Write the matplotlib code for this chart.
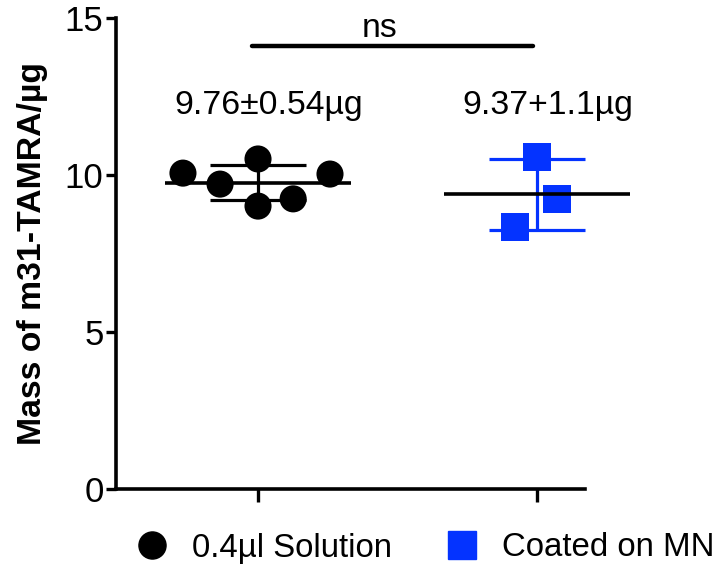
import numpy as np
import matplotlib
matplotlib.use("Agg")
import matplotlib.pyplot as plt
from matplotlib.lines import Line2D

plt.rcParams['font.family'] = ['Liberation Sans', 'DejaVu Sans']

categories = ["0.4µl Solution", "Coated on MN"]
solution_vals = [10.06, 9.71, 10.51, 9.01, 9.24, 10.03]
coated_vals = [8.34, 10.57, 9.24]
solution_jitter = [-0.269, -0.136, 0.0, 0.0, 0.126, 0.258]
coated_jitter = [-0.079, 0.0, 0.072]
labels = ["9.76±0.54µg", "9.37+1.1µg"]
sig_text = "ns"
yticks = [0, 5, 10, 15]

BLUE = "#0433FF"
FS = 24.3
fig = plt.figure(figsize=(7.2, 5.68), dpi=100)
ax = fig.add_axes([116/720, 1-489/568, (585-116)/720, (489-18)/568])
ax.set_xlim(-0.509, 1.172)
ax.set_ylim(0, 15)

groups = [(solution_vals, solution_jitter, 'o', 'black', 'black'),
          (coated_vals, coated_jitter, 's', BLUE, BLUE)]
for i, (vals, jit, mk, col, ecol) in enumerate(groups):
    vals = np.array(vals)
    m = vals.mean()
    sd = vals.std(ddof=1)
    ax.errorbar([i], [m], yerr=[sd], fmt='none', ecolor=ecol, elinewidth=2.3,
                capsize=34.5, capthick=2.3, zorder=2, clip_on=False)
    ax.scatter(i + np.array(jit), vals, marker=mk, s=(19.5 if mk == 'o' else 20.5)**2,
               color=col, edgecolors='none', zorder=3, clip_on=False)
    ax.hlines(m, i - 0.335, i + 0.335, colors='black', linewidth=2.6, zorder=4, clip_on=False)
    ax.text(i + 0.04, 12.2, labels[i], ha='center', va='center', fontsize=FS)

# significance bar
ax.plot([-0.02, 0.985], [14.1, 14.1], color='black', linewidth=3.2,
        solid_capstyle='round', clip_on=False, zorder=5)
ax.text(0.435, 14.4, sig_text, ha='center', va='baseline', fontsize=FS)

for s in ['top', 'right']:
    ax.spines[s].set_visible(False)
for s in ['left', 'bottom']:
    ax.spines[s].set_linewidth(2.6)

ax.set_yticks(yticks)
ax.set_xticks([0, 1])
ax.set_xticklabels(["", ""])
ax.tick_params(axis='y', length=7, width=2.4, labelsize=25, pad=2)
ax.tick_params(axis='x', length=9.5, width=2.4)
ax.set_ylabel("Mass of m31-TAMRA/µg", fontsize=FS, fontweight='bold', labelpad=12)

handles = [Line2D([], [], marker='o', linestyle='none', color='black', markersize=19.5),
           Line2D([], [], marker='s', linestyle='none', color=BLUE, markersize=19.5)]
fig.legend(handles, categories, loc='center left', bbox_to_anchor=(135/720, 1-548/568), ncol=2,
           frameon=False, fontsize=23.8, handletextpad=0.71, columnspacing=1.62,
           handlelength=1.0, borderpad=0, borderaxespad=0)

fig.savefig("out.png", dpi=100)
